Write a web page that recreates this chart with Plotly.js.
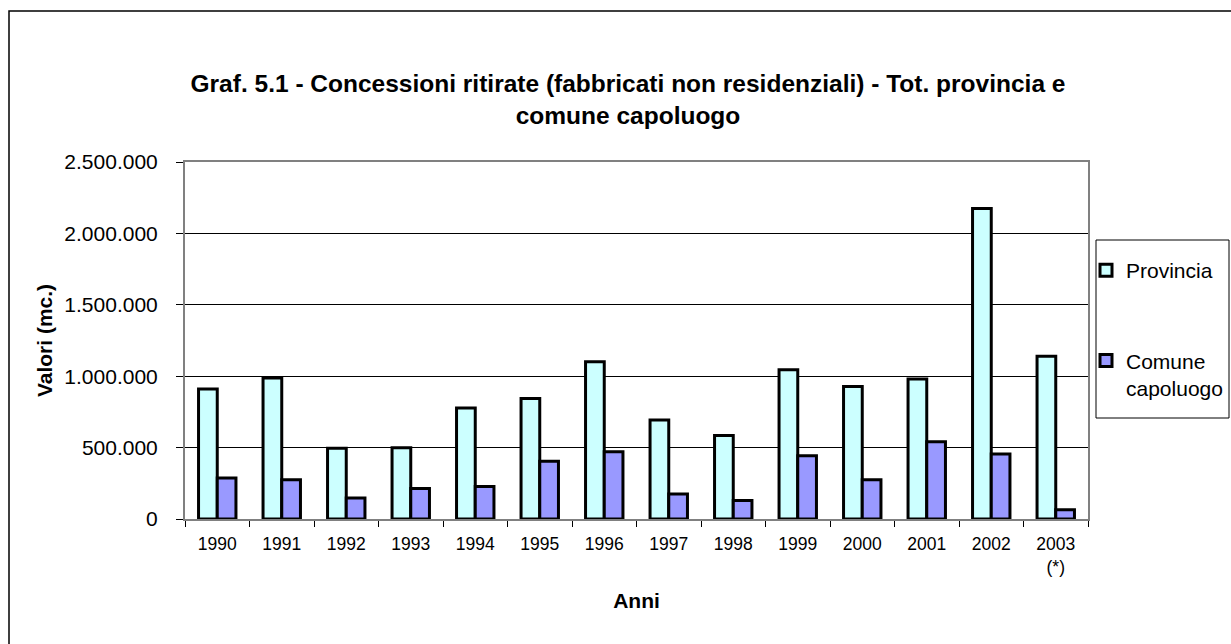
<!DOCTYPE html>
<html>
<head>
<meta charset="utf-8">
<script src="https://cdn.plot.ly/plotly-3.0.1.min.js"></script>
<style>
html,body{margin:0;padding:0;background:#fff;}
#chart{width:1231px;height:644px;}
</style>
</head>
<body>
<div id="chart"></div>
<script>
var anni = ["1990","1991","1992","1993","1994","1995","1996","1997","1998","1999","2000","2001","2002","2003<br>(*)"];
var provincia = [910000, 988000, 495000, 499000, 778000, 843000, 1102000, 694000, 585000, 1046000, 927000, 981000, 2175000, 1140000];
var comuneCapoluogo = [287000, 275000, 147000, 214000, 228000, 405000, 471000, 175000, 130000, 443000, 275000, 541000, 455000, 65000];
var yTicks = [0, 500000, 1000000, 1500000, 2000000, 2500000];

var FONT = "'Liberation Sans', Arial, sans-serif";

// plot area in pixels
var PL = 185, PR = 1088, PT = 162, PB = 519;
var W = 1231, H = 644;
function px(x) { return (x - PL) / (PR - PL); }
function py(y) { return (PB - y) / (PB - PT); }

var traces = [
  {
    type: "bar", name: "Provincia", x: anni, y: provincia,
    legendgroup: "a",
    marker: {color: "#CCFFFF", line: {color: "#000000", width: 3}}
  },
  {
    type: "bar", name: "Comune<br>capoluogo", x: anni, y: comuneCapoluogo,
    legendgroup: "b",
    marker: {color: "#9999FF", line: {color: "#000000", width: 3}}
  }
];

var layout = {
  width: W, height: H,
  paper_bgcolor: "#ffffff", plot_bgcolor: "#ffffff",
  separators: ",.",
  font: {family: FONT, color: "#000000", size: 21},
  margin: {l: PL, r: W - PR, t: PT, b: H - PB, pad: 0, autoexpand: false},
  showlegend: true,
  barmode: "group",
  bargap: 0.42,
  bargroupgap: 0,
  title: {
    text: "<b>Graf. 5.1 - Concessioni ritirate (fabbricati non residenziali) - Tot. provincia e<br>comune capoluogo</b>",
    font: {family: FONT, size: 24.5, color: "#000000"},
    x: px(628), xref: "paper", xanchor: "center",
    y: 0.857, yref: "container", yanchor: "middle"
  },
  xaxis: {
    type: "category",
    tickson: "boundaries",
    ticks: "outside", ticklen: 6, tickcolor: "#000000", tickwidth: 1,
    showline: true, linecolor: "#808080", linewidth: 2, mirror: true,
    showgrid: false, zeroline: false,
    tickfont: {family: FONT, size: 17.5, color: "#000000"},
    ticklabelstandoff: 8,
    title: {text: "<b>Anni</b>", font: {family: FONT, size: 21, color: "#000000"}, standoff: 18}
  },
  yaxis: {
    range: [0, 2500000],
    tickvals: yTicks,
    tickformat: ",d",
    ticks: "outside", ticklen: 7, tickcolor: "#000000", tickwidth: 1,
    showline: true, linecolor: "#808080", linewidth: 2, mirror: true,
    showgrid: true, gridcolor: "#000000", gridwidth: 1,
    zeroline: false,
    tickfont: {family: FONT, size: 21, color: "#000000"},
    ticklabelstandoff: 14,
    title: {text: "<b>Valori (mc.)</b>", font: {family: FONT, size: 21, color: "#000000"}, standoff: 6}
  },
  legend: {
    x: px(1086), xanchor: "left", y: py(250), yanchor: "top",
    bgcolor: "rgba(0,0,0,0)", borderwidth: 0,
    font: {family: FONT, size: 21, color: "#000000"},
    traceorder: "grouped", tracegroupgap: 60,
    valign: "top",
    itemclick: false, itemdoubleclick: false
  },
  shapes: [
    {type: "rect", xref: "paper", yref: "paper",
     x0: px(9), x1: 1.5, y0: -1, y1: py(11),
     line: {color: "#000000", width: 1.5}, fillcolor: "rgba(0,0,0,0)", layer: "below"},
    {type: "rect", xref: "paper", yref: "paper",
     x0: px(1096), x1: px(1229), y0: py(418), y1: py(240),
     line: {color: "#000000", width: 1}, fillcolor: "rgba(0,0,0,0)", layer: "below"}
  ]
};

Plotly.newPlot("chart", traces, layout, {displayModeBar: false, staticPlot: true});
</script>
</body>
</html>
